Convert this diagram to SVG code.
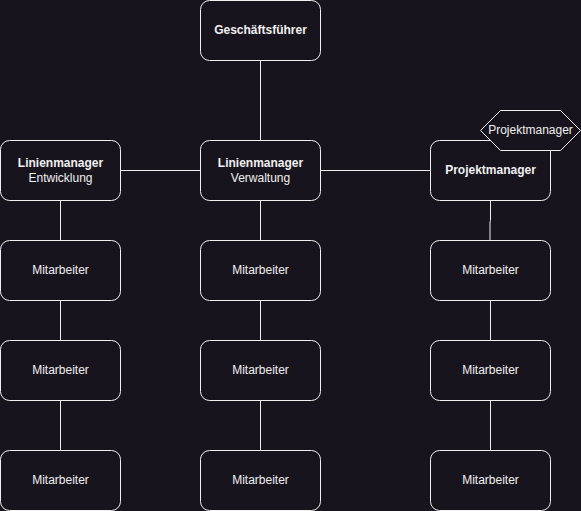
<svg xmlns="http://www.w3.org/2000/svg" width="581" height="511" viewBox="0 0 581 511">
<style>
.n rect{fill:#18141d;stroke:#f0f0f0;stroke-width:1}
.n polygon{fill:#18141d;stroke:#f0f0f0;stroke-width:1}
text{font-family:"Liberation Sans",Arial,sans-serif;font-size:12px;fill:#f0f0f0;text-anchor:middle}
.b{font-weight:bold}
#edges path{fill:none;stroke:#f0f0f0;stroke-width:1}
</style>
<rect width="581" height="511" fill="#18141d"/>
<g id="edges">
<path d="M260.5 60.5V140.5"/>
<path d="M120.5 170.5H200.5"/>
<path d="M320.5 170.5H430.5"/>
<path d="M60.5 200.5V240.5M60.5 300.5V340.5M60.5 400.5V450.5"/>
<path d="M260.5 200.5V240.5M260.5 300.5V340.5M260.5 400.5V450.5"/>
<path d="M490.5 200.5V220.5L490 222V240.5M490.5 300.5V340.5M490.5 400.5V450.5"/>
</g>
<g id="gf" class="n"><rect x="200.5" y="0.5" width="120" height="60" rx="9"/><text x="260.5" y="34" class="b">Geschäftsführer</text></g>
<g id="lm-e" class="n"><rect x="0.5" y="140.5" width="120" height="60" rx="9"/><text x="60.5" y="167" class="b">Linienmanager</text><text x="60.5" y="182">Entwicklung</text></g>
<g id="lm-v" class="n"><rect x="200.5" y="140.5" width="120" height="60" rx="9"/><text x="260.5" y="167" class="b">Linienmanager</text><text x="260.5" y="182">Verwaltung</text></g>
<g id="pm" class="n"><rect x="430.5" y="140.5" width="120" height="60" rx="9"/><text x="490.5" y="174" class="b">Projektmanager</text></g>
<g id="pm-hex" class="n"><polygon points="480.5,130.5 500.5,110.5 560.5,110.5 580.5,130.5 560.5,150.5 500.5,150.5"/><text x="530.5" y="134">Projektmanager</text></g>
<g id="m1" class="n"><rect x="0.5" y="240.5" width="120" height="60" rx="9"/><text x="60.5" y="274">Mitarbeiter</text></g>
<g id="m2" class="n"><rect x="0.5" y="340.5" width="120" height="60" rx="9"/><text x="60.5" y="374">Mitarbeiter</text></g>
<g id="m3" class="n"><rect x="0.5" y="450.5" width="120" height="60" rx="9"/><text x="60.5" y="484">Mitarbeiter</text></g>
<g id="m4" class="n"><rect x="200.5" y="240.5" width="120" height="60" rx="9"/><text x="260.5" y="274">Mitarbeiter</text></g>
<g id="m5" class="n"><rect x="200.5" y="340.5" width="120" height="60" rx="9"/><text x="260.5" y="374">Mitarbeiter</text></g>
<g id="m6" class="n"><rect x="200.5" y="450.5" width="120" height="60" rx="9"/><text x="260.5" y="484">Mitarbeiter</text></g>
<g id="m7" class="n"><rect x="430.5" y="240.5" width="120" height="60" rx="9"/><text x="490.5" y="274">Mitarbeiter</text></g>
<g id="m8" class="n"><rect x="430.5" y="340.5" width="120" height="60" rx="9"/><text x="490.5" y="374">Mitarbeiter</text></g>
<g id="m9" class="n"><rect x="430.5" y="450.5" width="120" height="60" rx="9"/><text x="490.5" y="484">Mitarbeiter</text></g>
</svg>
